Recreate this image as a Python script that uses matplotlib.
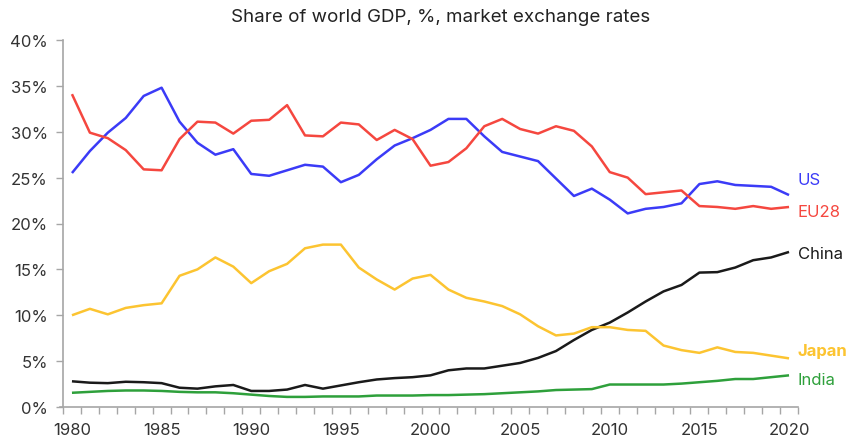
import matplotlib
matplotlib.use("Agg")
from matplotlib import pyplot as plt
from matplotlib.ticker import FixedLocator, FuncFormatter
import numpy as np

plt.rcParams['font.family'] = ['Inter', 'DejaVu Sans']

years = np.arange(1980, 2021)

us = [25.5, 27.9, 29.9, 31.5, 33.9, 34.8, 31.1, 28.8, 27.5, 28.1,
      25.4, 25.2, 25.8, 26.4, 26.2, 24.5, 25.3, 27.0, 28.5, 29.3,
      30.2, 31.4, 31.4, 29.5, 27.8, 27.3, 26.8, 24.9, 23.0, 23.8,
      22.6, 21.1, 21.6, 21.8, 22.2, 24.3, 24.6, 24.2, 24.1, 24.0, 23.1]
eu28 = [34.1, 29.9, 29.3, 28.0, 25.9, 25.8, 29.2, 31.1, 31.0, 29.8,
        31.2, 31.3, 32.9, 29.6, 29.5, 31.0, 30.8, 29.1, 30.2, 29.2,
        26.3, 26.7, 28.2, 30.6, 31.4, 30.3, 29.8, 30.6, 30.1, 28.4,
        25.6, 25.0, 23.2, 23.4, 23.6, 21.9, 21.8, 21.6, 21.9, 21.6, 21.8]
china = [2.8, 2.65, 2.6, 2.75, 2.7, 2.6, 2.1, 2.0, 2.25, 2.4,
         1.75, 1.75, 1.9, 2.4, 2.0, 2.35, 2.7, 3.0, 3.15, 3.25,
         3.45, 4.0, 4.2, 4.2, 4.5, 4.8, 5.35, 6.1, 7.3, 8.4,
         9.2, 10.3, 11.5, 12.6, 13.3, 14.65, 14.7, 15.2, 16.0, 16.3, 16.9]
japan = [10.0, 10.7, 10.1, 10.8, 11.1, 11.3, 14.3, 15.0, 16.3, 15.3,
         13.5, 14.8, 15.6, 17.3, 17.7, 17.7, 15.2, 13.9, 12.8, 14.0,
         14.4, 12.8, 11.9, 11.5, 11.0, 10.1, 8.8, 7.8, 8.0, 8.7,
         8.7, 8.4, 8.3, 6.7, 6.2, 5.9, 6.5, 6.0, 5.9, 5.6, 5.3]
india = [1.55, 1.65, 1.75, 1.8, 1.8, 1.75, 1.65, 1.6, 1.6, 1.5,
         1.35, 1.2, 1.1, 1.1, 1.15, 1.15, 1.15, 1.25, 1.25, 1.25,
         1.3, 1.3, 1.35, 1.4, 1.5, 1.6, 1.7, 1.85, 1.9, 1.95,
         2.45, 2.45, 2.45, 2.45, 2.55, 2.7, 2.85, 3.05, 3.05, 3.25, 3.45]

# name, values, colour, weight, label offset (in % points)
series = [
    ('US', us, '#3b3bf7', 'normal', 1.7),
    ('EU28', eu28, '#f5473f', 'normal', -0.5),
    ('China', china, '#1a1a1a', 'normal', -0.2),
    ('Japan', japan, '#fcc431', 'bold', 0.9),
    ('India', india, '#2ea03b', 'normal', -0.5),
]

fig = plt.figure(figsize=(8.5, 4.39), dpi=100)
ax = fig.add_axes([63 / 850, 31 / 439, 735 / 850, 367 / 439])

for name, vals, col, weight, dy in series:
    ax.plot(years, vals, color=col, lw=1.8, solid_capstyle='butt')
    ax.text(2020.5, vals[-1] + dy, name, color=col, fontsize=12,
            fontweight=weight, va='center', ha='left')

ax.set_xlim(1979.5, 2020.5)
ax.set_ylim(0, 40)

ax.xaxis.set_major_locator(FixedLocator(range(1980, 2021, 5)))
ax.xaxis.set_minor_locator(FixedLocator(np.arange(1979.5, 2021, 1)))
ax.tick_params(axis='x', which='major', length=0, pad=11, labelsize=12, labelcolor='#333333')
ax.tick_params(axis='x', which='minor', length=5, width=1, color='#a6a6a6', direction='out')

ax.set_yticks(range(0, 41, 5))
ax.yaxis.set_major_formatter(FuncFormatter(lambda v, p: f'{v:.0f}%'))
ax.tick_params(axis='y', length=5, width=1, color='#a6a6a6', labelsize=12,
               labelcolor='#333333', pad=6)

for s in ['top', 'right']:
    ax.spines[s].set_visible(False)
for s in ['left', 'bottom']:
    ax.spines[s].set_color('#a6a6a6')
    ax.spines[s].set_linewidth(1.2)
ax.spines['bottom'].set_bounds(1979.35, 2020.5)

fig.text(441 / 850, 1 - 18 / 439, 'Share of world GDP, %, market exchange rates',
         ha='center', va='center', fontsize=13.5, color='#222222')

fig.savefig('out.png', dpi=100)
